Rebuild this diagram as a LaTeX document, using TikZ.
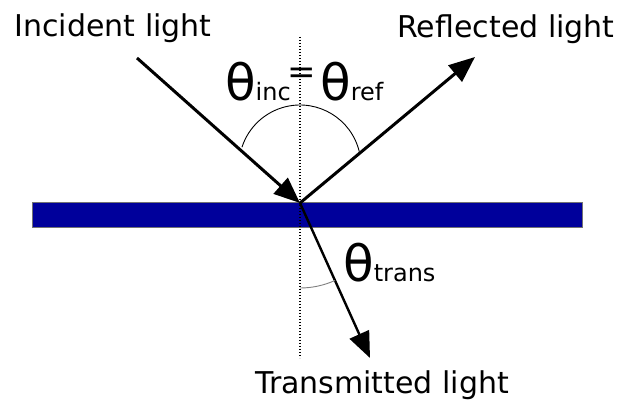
\documentclass[tikz,border=0pt]{standalone}
\usepackage{fontspec}
\setmainfont{DejaVu Sans}
\usepackage{tikz}
\usetikzlibrary{arrows.meta,positioning,calc}

\definecolor{slab}{RGB}{0,0,155}

\begin{document}
\begin{tikzpicture}[
    x=1pt, y=1pt,
    lbl/.style={inner sep=0pt, font=\fontsize{30}{30}\selectfont},
    ang/.style={inner sep=0pt},
    ray/.style={line width=3pt, -{Triangle[length=26pt, width=21pt]}},
    normal/.style={line width=1.6pt, dash pattern=on 1.4pt off 1.6pt},
    arcline/.style={line width=0.9pt}
]
\useasboundingbox (0,0) rectangle (624,402);

% Glass plate
\node[draw=black!55, line width=0.8pt, fill=slab, minimum width=550pt, minimum height=25pt,
      inner sep=0pt, anchor=south west] (plate) at (32,174) {};

% Points
\coordinate (hit) at (300,199);
\coordinate (src) at (137,344);
\coordinate (rend) at (475,345);
\coordinate (tend) at (370,44);
\coordinate (ntop) at (300,365);
\coordinate (nbot) at (300,44);

% Normal
\draw[normal] (ntop) -- (nbot);

% Rays
\draw[ray] (src) -- (hit);
\draw[ray] (hit) -- (rend);
\draw[ray, line width=2.4pt] (hit) -- (tend);

% Angles
\draw[arcline] (300,236) ++(13.6:61) arc[start angle=13.6, end angle=162, radius=61];
\draw[arcline, gray] (hit) ++(270:85) arc[start angle=270, end angle=294.3, radius=85];

% Labels
\node[lbl, anchor=base] (inc) at (113,365) {Incident light};
\node[lbl, anchor=base] (refl) at (506,364) {Reflected light};
\node[lbl, anchor=base] (trans) at (382,9) {Transmitted light};

\node[ang, anchor=base east] (thinc) at (291,301)
    {{\fontsize{50}{50}\selectfont θ}{\fontsize{24}{24}\selectfont inc}};
\node[ang, anchor=base west] (thref) at (320,301)
    {{\fontsize{50}{50}\selectfont θ}{\fontsize{24}{24}\selectfont ref}};
\node[ang, font=\fontsize{34}{34}\selectfont] (eq) at (302,326) {=};
\node[ang, anchor=base west] (thtrans) at (343,121)
    {{\fontsize{50}{50}\selectfont θ}{\fontsize{24}{24}\selectfont trans}};
\end{tikzpicture}
\end{document}
